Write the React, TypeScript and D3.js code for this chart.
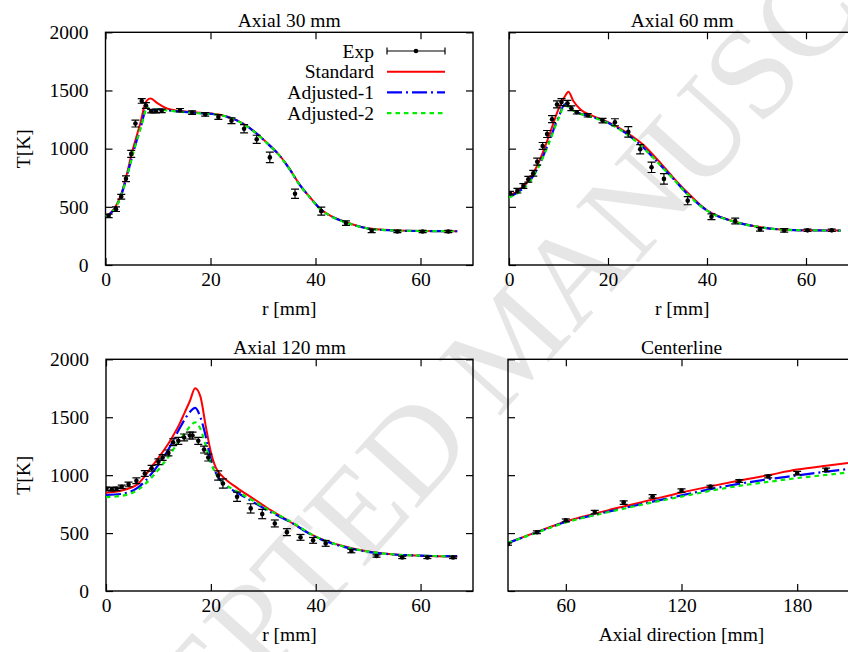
import React, { useEffect, useRef } from "react";
import * as d3 from "d3";

// ---- Axial 30 mm ----
const r30Exp = [0.6, 2, 3, 3.9, 4.9, 5.7, 6.9, 7.7, 8.7, 9.6, 10.7, 14.2, 16.5, 19, 21.5, 24, 26.4, 28.8, 31.3, 36.1, 41.1, 45.8, 50.7, 55.6, 60.4, 65.3];
const t30Exp = [423, 480, 587, 741, 955, 1216, 1410, 1371, 1322, 1322, 1325, 1330, 1310, 1295, 1272, 1240, 1171, 1080, 925, 612, 463, 360, 294, 288, 288, 288];
const e30Exp = [15, 20, 20, 25, 30, 30, 20, 25, 15, 15, 15, 15, 15, 15, 20, 25, 35, 35, 45, 40, 35, 20, 15, 10, 10, 10];
const r30Model = [0, 1, 2, 3, 4, 5, 6, 6.7, 7.5, 7.9, 8.6, 9.8, 11.7, 14, 18, 22, 25, 28, 31, 33, 35, 37, 39, 41, 43, 46, 50, 55, 60, 67];
const t30Std = [425, 450, 510, 610, 770, 960, 1120, 1230, 1380, 1415, 1430, 1393, 1345, 1325, 1308, 1290, 1245, 1160, 1040, 950, 830, 690, 580, 480, 420, 365, 315, 298, 292, 290];
const t30Adj1 = [420, 445, 500, 600, 750, 920, 1080, 1180, 1320, 1365, 1330, 1340, 1330, 1320, 1305, 1288, 1243, 1158, 1038, 948, 828, 688, 578, 478, 418, 363, 314, 297, 292, 290];
const t30Adj2 = [420, 445, 500, 598, 748, 918, 1075, 1175, 1310, 1355, 1328, 1338, 1328, 1318, 1304, 1287, 1242, 1157, 1037, 947, 827, 687, 577, 477, 418, 363, 314, 297, 292, 290];

// ---- Axial 60 mm ----
const r60Exp = [0.2, 1.7, 2.9, 3.9, 4.9, 5.7, 6.8, 7.7, 8.7, 9.7, 10.6, 11.8, 12.6, 13.7, 15.9, 18.9, 21.4, 24.1, 26.5, 28.8, 31.3, 36.1, 40.9, 45.7, 50.7, 55.6, 60.3, 65.2];
const t60Exp = [617, 639, 679, 737, 789, 888, 1023, 1126, 1253, 1380, 1400, 1390, 1347, 1313, 1287, 1241, 1227, 1144, 995, 840, 740, 553, 415, 378, 307, 298, 298, 298];
const e60Exp = [15, 20, 20, 25, 25, 30, 30, 30, 30, 30, 30, 25, 20, 15, 15, 20, 30, 45, 40, 45, 45, 35, 25, 25, 15, 15, 10, 10];
const r60Model = [0, 2, 4, 6, 8, 10, 11.3, 12, 13, 14.5, 17, 20, 24, 27, 30, 33, 36, 40, 45, 50, 55, 60, 67];
const t60Std = [600, 640, 730, 880, 1100, 1340, 1450, 1490, 1410, 1335, 1280, 1228, 1132, 1037, 905, 760, 625, 470, 380, 330, 305, 298, 296];
const t60Adj1 = [585, 630, 710, 850, 1050, 1270, 1380, 1365, 1330, 1300, 1270, 1222, 1120, 1015, 885, 750, 612, 468, 378, 330, 305, 298, 296];
const t60Adj2 = [580, 625, 705, 845, 1040, 1260, 1370, 1360, 1328, 1298, 1268, 1220, 1118, 1013, 883, 748, 610, 467, 378, 330, 305, 298, 296];

// ---- Axial 120 mm ----
const r120Exp = [0.1, 1.1, 2, 3, 4.3, 5.8, 7.4, 8.7, 10, 10.8, 11.9, 12.8, 13.8, 14.9, 16, 16.5, 17.6, 18.7, 19.5, 21.4, 22.3, 25, 27.6, 29.8, 32.2, 34.5, 37.1, 39.5, 41.9, 46.8, 51.6, 56.5, 61.3, 66.2];
const t120Exp = [882, 879, 882, 899, 920, 951, 1014, 1060, 1115, 1152, 1192, 1284, 1296, 1325, 1342, 1342, 1296, 1221, 1152, 997, 928, 813, 713, 664, 583, 508, 463, 437, 411, 345, 302, 290, 290, 290];
const e120Exp = [15, 15, 15, 15, 20, 25, 25, 25, 25, 25, 25, 30, 30, 30, 30, 30, 30, 30, 30, 40, 40, 40, 40, 40, 30, 30, 25, 25, 25, 15, 10, 10, 10, 10];
const r120Model = [0, 3, 6, 9, 12, 14, 15, 16, 17, 18, 19, 20, 21, 22, 25, 28, 31, 35, 40, 45, 50, 55, 60, 67];
const t120Std = [848, 868, 920, 1090, 1280, 1440, 1540, 1640, 1750, 1680, 1430, 1200, 1060, 1000, 890, 800, 710, 600, 470, 390, 340, 315, 305, 298];
const t120Adj1 = [828, 838, 890, 1030, 1230, 1400, 1480, 1545, 1580, 1500, 1340, 1135, 1015, 945, 850, 770, 690, 600, 465, 385, 338, 315, 305, 298];
const t120Adj2 = [810, 822, 870, 995, 1165, 1300, 1360, 1420, 1455, 1400, 1260, 1105, 1010, 950, 860, 780, 700, 605, 470, 388, 340, 315, 305, 298];

// ---- Centerline ----
const zExp = [30, 45, 60, 75, 90, 105, 120, 135, 150, 165, 180, 195];
const tzExp = [405, 507, 610, 681, 763, 817, 866, 901, 949, 989, 1017, 1046];
const ezExp = [10, 12, 12, 15, 15, 15, 15, 12, 12, 12, 15, 15];
const zModel = [30, 45, 60, 75, 90, 105, 120, 135, 150, 165, 180, 195, 210];
const tzStd = [415, 510, 600, 668, 730, 790, 850, 903, 953, 1000, 1048, 1082, 1112];
const tzAdj1 = [415, 507, 595, 658, 715, 772, 825, 880, 925, 965, 997, 1030, 1060];
const tzAdj2 = [415, 505, 592, 655, 710, 765, 815, 865, 908, 942, 975, 1002, 1030];

const yTicks = [0, 500, 1000, 1500, 2000];
const rTicks = [0, 20, 40, 60];
const zTicks = [60, 120, 180];
const legendNames = ["Exp", "Standard", "Adjusted-1", "Adjusted-2"];

const FONT = "'Liberation Serif', 'Times New Roman', serif";
const FS = 19.5;
const TICK = 7;

const series = [
  { key: "std", color: "#ff0000", dash: null, width: 2 },
  { key: "adj1", color: "#0000ff", dash: "15,4,2,4", width: 2.2 },
  { key: "adj2", color: "#00ee00", dash: "4.5,4", width: 2.2 },
];

const panels = [
  {
    title: "Axial 30 mm", xLabel: "r [mm]", yLabel: true, xDomain: [0, 70], xTicks: rTicks,
    box: { left: 105.5, right: 473, top: 32.3, bottom: 265 },
    xe: r30Exp, te: t30Exp, ee: e30Exp, xm: r30Model, std: t30Std, adj1: t30Adj1, adj2: t30Adj2, legend: true,
  },
  {
    title: "Axial 60 mm", xLabel: "r [mm]", yLabel: false, xDomain: [0, 70], xTicks: rTicks,
    box: { left: 509, right: 855.5, top: 32.3, bottom: 265 },
    xe: r60Exp, te: t60Exp, ee: e60Exp, xm: r60Model, std: t60Std, adj1: t60Adj1, adj2: t60Adj2, legend: false,
  },
  {
    title: "Axial 120 mm", xLabel: "r [mm]", yLabel: true, xDomain: [0, 70], xTicks: rTicks,
    box: { left: 106, right: 473, top: 359.3, bottom: 591 },
    xe: r120Exp, te: t120Exp, ee: e120Exp, xm: r120Model, std: t120Std, adj1: t120Adj1, adj2: t120Adj2, legend: false,
  },
  {
    title: "Centerline", xLabel: "Axial direction [mm]", yLabel: false, xDomain: [30, 210], xTicks: zTicks,
    box: { left: 508, right: 855, top: 359.3, bottom: 591 },
    xe: zExp, te: tzExp, ee: ezExp, xm: zModel, std: tzStd, adj1: tzAdj1, adj2: tzAdj2, legend: false,
  },
];

const App = () => {
  const svgRef = useRef<SVGSVGElement>(null);

  useEffect(() => {
    document.body.style.margin = "0";
    const svg = d3.select(svgRef.current);
    svg.selectAll("*").remove();
    svg.append("rect").attr("width", 848).attr("height", 652).attr("fill", "#fff");

    // faint watermark behind the plots
    svg
      .append("text")
      .attr("transform", "translate(520,350) rotate(-48)")
      .attr("text-anchor", "middle")
      .attr("dominant-baseline", "middle")
      .attr("font-family", FONT)
      .attr("font-size", 128)
      .attr("fill", "#e6e6e6")
      .text("ACCEPTED MANUSCRIPT");

    panels.forEach((p, pi) => {
      const { left, right, top, bottom } = p.box;
      const x = d3.scaleLinear().domain(p.xDomain).range([left, right]);
      const y = d3.scaleLinear().domain([0, 2000]).range([bottom, top]);
      const g = svg.append("g");

      const clipId = `clip${pi}`;
      g.append("clipPath").attr("id", clipId)
        .append("rect").attr("x", left).attr("y", top).attr("width", right - left).attr("height", bottom - top);

      // axes (gnuplot style: inward ticks, mirrored)
      const styleAxis = (ax: any) => {
        ax.select(".domain").remove();
        ax.selectAll("line").attr("stroke", "#000").attr("stroke-width", 1.2);
        ax.selectAll("text").attr("font-family", FONT).attr("font-size", FS).attr("fill", "#000");
      };
      g.append("g").attr("transform", `translate(0,${bottom})`)
        .call(d3.axisBottom(x).tickValues(p.xTicks).tickSizeInner(-TICK).tickSizeOuter(0).tickPadding(7))
        .call(styleAxis);
      g.append("g").attr("transform", `translate(0,${top})`)
        .call(d3.axisTop(x).tickValues(p.xTicks).tickSizeInner(-TICK).tickSizeOuter(0).tickFormat(() => ""))
        .call(styleAxis);
      g.append("g").attr("transform", `translate(${left},0)`)
        .call(d3.axisLeft(y).tickValues(yTicks).tickSizeInner(-TICK).tickSizeOuter(0).tickPadding(17)
          .tickFormat(p.yLabel ? (d: any) => String(d) : () => ""))
        .call(styleAxis);
      g.append("g").attr("transform", `translate(${right},0)`)
        .call(d3.axisRight(y).tickValues(yTicks).tickSizeInner(-TICK).tickSizeOuter(0).tickFormat(() => ""))
        .call(styleAxis);

      g.append("rect")
        .attr("x", left).attr("y", top).attr("width", right - left).attr("height", bottom - top)
        .attr("fill", "none").attr("stroke", "#000").attr("stroke-width", 1.4);

      // titles and labels
      const cx = (left + right) / 2;
      g.append("text").attr("x", cx).attr("y", top - 5.5).attr("text-anchor", "middle")
        .attr("font-family", FONT).attr("font-size", FS).text(p.title);
      g.append("text").attr("x", cx).attr("y", bottom + 50).attr("text-anchor", "middle")
        .attr("font-family", FONT).attr("font-size", FS).text(p.xLabel);
      if (p.yLabel) {
        g.append("text")
          .attr("transform", `translate(30,${(top + bottom) / 2}) rotate(-90)`)
          .attr("text-anchor", "middle")
          .attr("font-family", FONT).attr("font-size", FS).text("T[K]");
      }

      const plot = g.append("g").attr("clip-path", `url(#${clipId})`);

      // model lines
      series.forEach((s) => {
        const vals = (p as any)[s.key] as number[];
        const pts = p.xm.map((v, i) => [v, vals[i]] as [number, number]);
        const line = d3.line<[number, number]>()
          .x((d) => x(d[0]))
          .y((d) => y(d[1]))
          .curve(d3.curveMonotoneX);
        plot.append("path").datum(pts)
          .attr("fill", "none").attr("stroke", s.color).attr("stroke-width", s.width)
          .attr("stroke-dasharray", s.dash).attr("d", line);
      });

      // experimental points with error bars
      const ex = plot.append("g").attr("stroke", "#000").attr("stroke-width", 1.2);
      p.xe.forEach((v, i) => {
        const px = x(v);
        const y0 = y(p.te[i] - p.ee[i]);
        const y1 = y(p.te[i] + p.ee[i]);
        ex.append("line").attr("x1", px).attr("x2", px).attr("y1", y0).attr("y2", y1);
        ex.append("line").attr("x1", px - 4).attr("x2", px + 4).attr("y1", y0).attr("y2", y0);
        ex.append("line").attr("x1", px - 4).attr("x2", px + 4).attr("y1", y1).attr("y2", y1);
        ex.append("circle").attr("cx", px).attr("cy", y(p.te[i])).attr("r", 2.3).attr("fill", "#000").attr("stroke", "none");
      });

      if (p.legend) {
        const lg = g.append("g");
        legendNames.forEach((name, i) => {
          const ly = 51 + i * 20.7;
          lg.append("text").attr("x", 374).attr("y", ly + 6.5).attr("text-anchor", "end")
            .attr("font-family", FONT).attr("font-size", FS).text(name);
          if (i === 0) {
            lg.append("line").attr("x1", 387).attr("x2", 445).attr("y1", ly).attr("y2", ly).attr("stroke", "#000").attr("stroke-width", 1.2);
            [387, 445].forEach((cxp) =>
              lg.append("line").attr("x1", cxp).attr("x2", cxp).attr("y1", ly - 3.5).attr("y2", ly + 3.5).attr("stroke", "#000").attr("stroke-width", 1.2));
            lg.append("circle").attr("cx", 416).attr("cy", ly).attr("r", 2.3).attr("fill", "#000");
          } else {
            const s = series[i - 1];
            lg.append("line").attr("x1", 387).attr("x2", 445).attr("y1", ly).attr("y2", ly)
              .attr("stroke", s.color).attr("stroke-width", s.width).attr("stroke-dasharray", s.dash);
          }
        });
      }
    });
  }, []);

  return <svg ref={svgRef} width={848} height={652} style={{ display: "block" }}></svg>;
};

export default App;
